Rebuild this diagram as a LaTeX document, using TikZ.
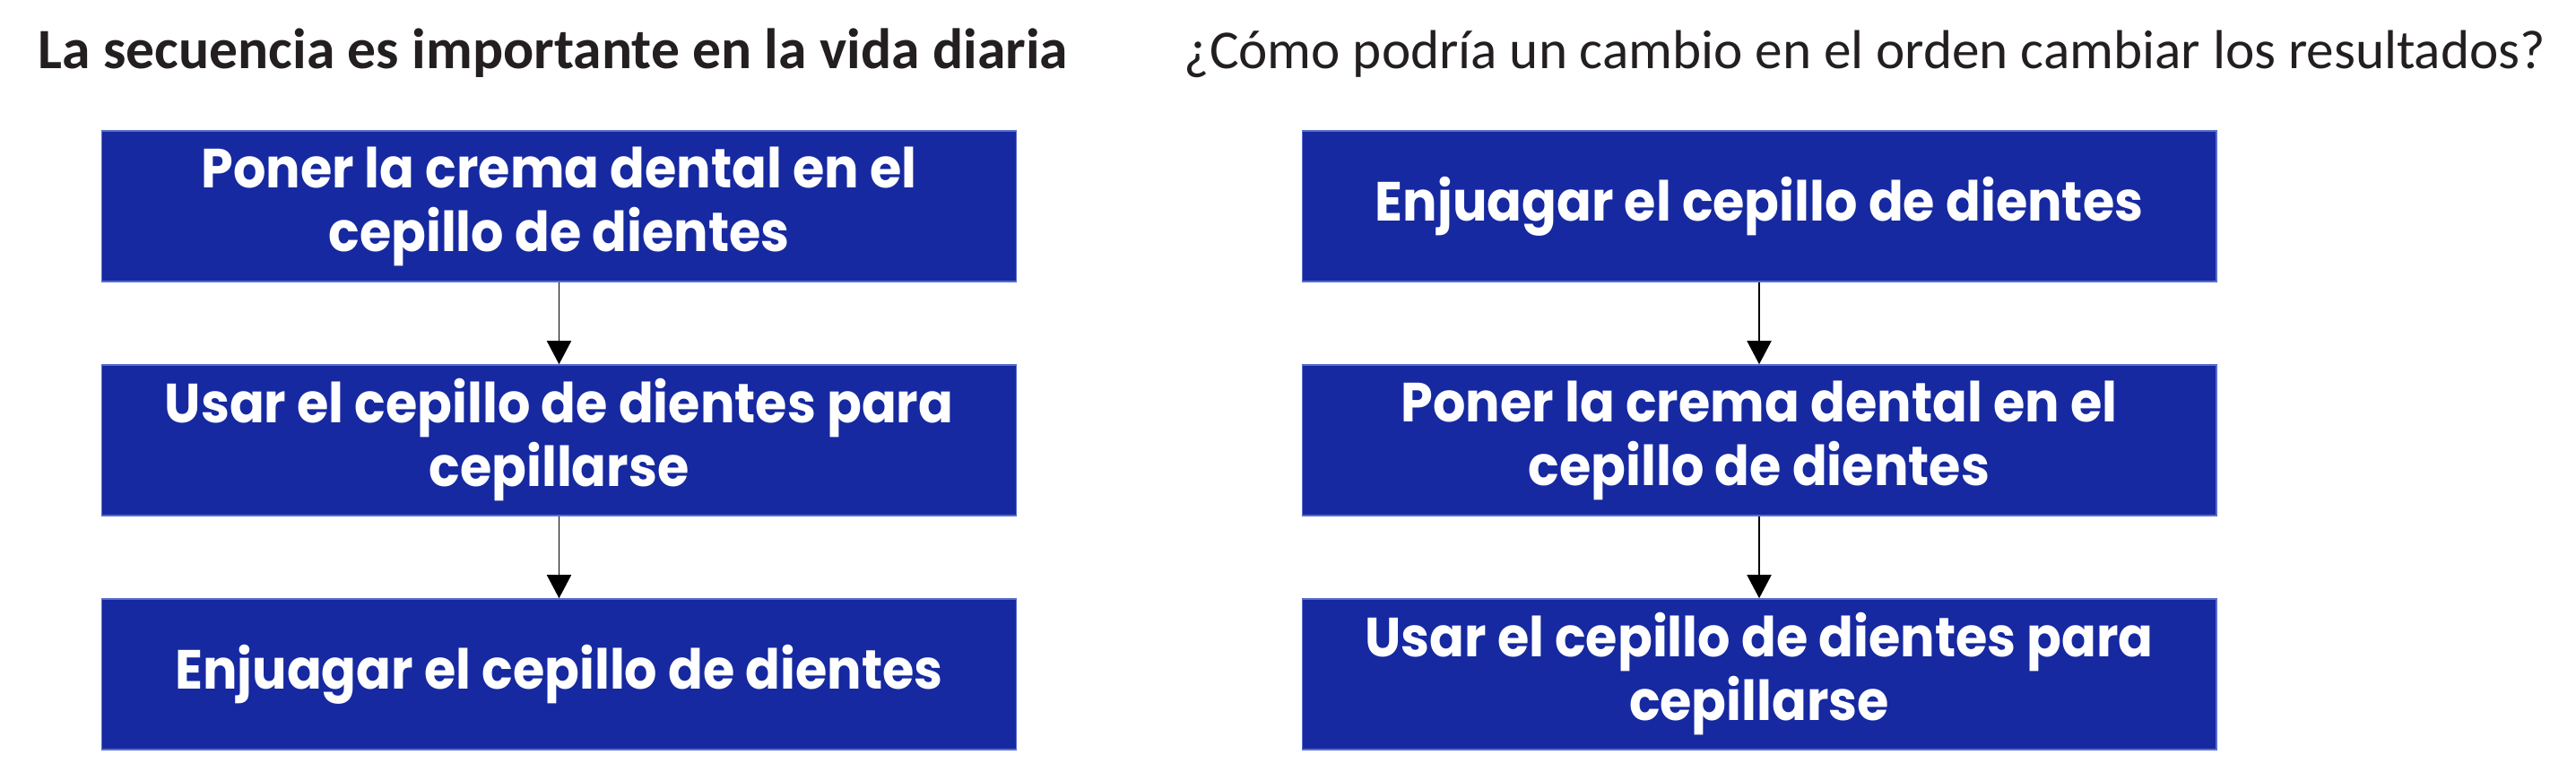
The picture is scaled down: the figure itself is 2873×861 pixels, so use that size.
\documentclass[tikz,border=0pt]{standalone}
\usepackage{fontspec}
\setmainfont{Carlito}
\newfontfamily\boxfont{Poppins}[FakeStretch=0.93]
\usetikzlibrary{arrows.meta}
\definecolor{boxblue}{RGB}{22,41,160}
\definecolor{boxedge}{RGB}{90,110,205}
\definecolor{titlegray}{RGB}{35,31,32}
\tikzset{
  stepbox/.style={draw=boxedge, line width=0.4pt, fill=boxblue, text=white,
    minimum width=10.19cm, minimum height=1.68cm, inner sep=0pt, align=center,
    font=\boxfont\bfseries\fontsize{17.5}{20.2}\selectfont},
  titletext/.style={anchor=base west, inner sep=0pt, text=titlegray},
  flow/.style={draw=black, line width=0.43pt, -{Triangle[length=7.4pt,width=7.7pt]}}
}
\begin{document}
\begin{tikzpicture}[x=0.01cm,y=-0.01cm]
\useasboundingbox (0,0) rectangle (2873,861);
\node[titletext, font=\bfseries\fontsize{18.1}{22}\selectfont] (t1) at (42,77) {La secuencia es importante en la vida diaria};
\node[titletext, font=\fontsize{17.4}{22}\selectfont] (t2) at (1320,77) {¿Cómo podría un cambio en el orden cambiar los resultados?};
\node[stepbox] (a1) at (623.5,230) {Poner la crema dental en el\\cepillo de dientes};
\node[stepbox] (a2) at (623.5,491) {Usar el cepillo de dientes para\\cepillarse};
\node[stepbox] (a3) at (623.5,752) {Enjuagar el cepillo de dientes};
\node[stepbox] (b1) at (1962,230) {Enjuagar el cepillo de dientes};
\node[stepbox] (b2) at (1962,491) {Poner la crema dental en el\\cepillo de dientes};
\node[stepbox] (b3) at (1962,752) {Usar el cepillo de dientes para\\cepillarse};
\draw[flow] (a1) -- (a2);
\draw[flow] (a2) -- (a3);
\draw[flow] (b1) -- (b2);
\draw[flow] (b2) -- (b3);
\end{tikzpicture}
\end{document}
